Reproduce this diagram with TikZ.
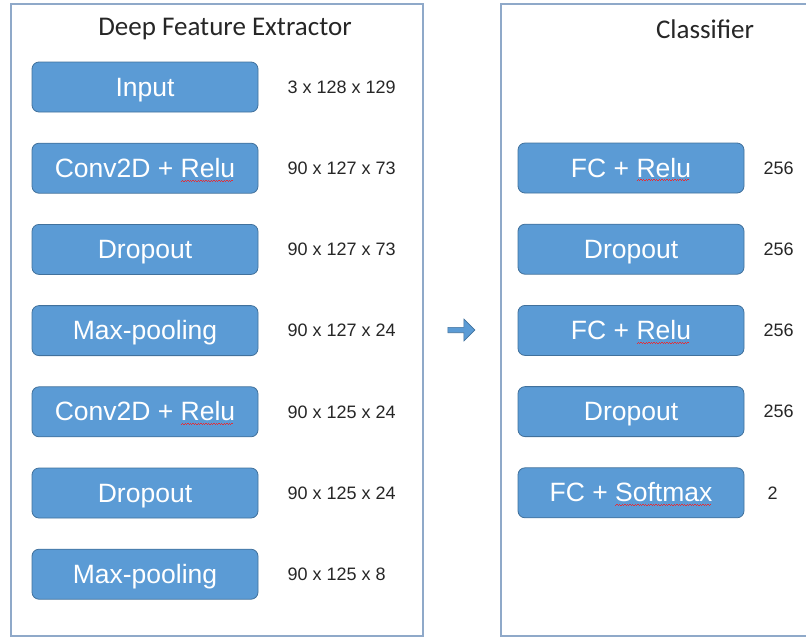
\documentclass[tikz,border=0pt]{standalone}
\usepackage{fontspec}
\setmainfont{Liberation Sans}
\newfontfamily\titlefont{Carlito}
\usetikzlibrary{shapes.arrows, positioning}
\definecolor{boxblue}{HTML}{5B9BD5}
\definecolor{boxedge}{HTML}{41719C}
\definecolor{panel}{HTML}{8FA9C9}
\definecolor{spellred}{HTML}{E0303A}
\newcommand\redwave[1]{\setbox0\hbox{#1}\rlap{\raisebox{-4pt}{\color{spellred}\leaders\hbox{\rule{1.3pt}{0.7pt}\raisebox{0.9pt}{\rule{1.3pt}{0.7pt}}}\hskip\wd0}}\box0}

\begin{document}
\begin{tikzpicture}[
    x=1pt, y=-1pt,
    node distance=30.4pt,
    layer/.style={draw=boxedge, line width=0.8pt, fill=boxblue, rounded corners=7pt, minimum width=226pt, minimum height=50pt, text height=19pt, text depth=1pt, text=white, font=\fontsize{26.5}{30}\selectfont},
    dims/.style={font=\fontsize{18}{21}\selectfont, text=black!85, inner sep=0pt, anchor=west},
    heading/.style={font=\titlefont\fontsize{27}{31}\selectfont, text=black!85},
    frame/.style={draw=panel, line width=1.6pt}
]
    \useasboundingbox (0,0) rectangle (806,638);
    % panels
    \draw[frame] (11,636) -- (11,4) -- (423,4) -- (423,636) -- cycle;
    \draw[frame] (820,636) -- (501,636) -- (501,4) -- (820,4);
    \node[heading] (fextitle) at (225,29) {Deep Feature Extractor};
    \node[heading] (clstitle) at (705,29) {Classifier};

    % feature extractor
    \node[layer] (in) at (145,87) {Input};
    \node[layer, below=of in] (conva) {Conv2D + \redwave{Relu}};
    \node[layer, below=of conva] (dropa) {Dropout};
    \node[layer, below=of dropa] (poola) {Max-pooling};
    \node[layer, below=of poola] (convb) {Conv2D + \redwave{Relu}};
    \node[layer, below=of convb] (dropb) {Dropout};
    \node[layer, below=of dropb] (poolb) {Max-pooling};

    \node[dims, right=29pt of in] (din) {3 x 128 x 129};
    \node[dims, right=29pt of conva] (dconva) {90 x 127 x 73};
    \node[dims, right=29pt of dropa] (ddropa) {90 x 127 x 73};
    \node[dims, right=29pt of poola] (dpoola) {90 x 127 x 24};
    \node[dims, right=29pt of convb] (dconvb) {90 x 125 x 24};
    \node[dims, right=29pt of dropb] (ddropb) {90 x 125 x 24};
    \node[dims, right=29pt of poolb] (dpoolb) {90 x 125 x 8};

    % classifier
    \node[layer] (fca) at (631,168) {FC + \redwave{Relu}};
    \node[layer, below=of fca] (cdropa) {Dropout};
    \node[layer, below=of cdropa] (fcb) {FC + \redwave{Relu}};
    \node[layer, below=of fcb] (cdropb) {Dropout};
    \node[layer, below=of cdropb] (fcout) {FC + \redwave{Softmax}};

    \node[dims, right=19pt of fca] (dfca) {256};
    \node[dims, right=19pt of cdropa] (dcdropa) {256};
    \node[dims, right=19pt of fcb] (dfcb) {256};
    \node[dims, right=19pt of cdropb] (dcdropb) {256};
    \node[dims, right=23pt of fcout] (dfcout) {2};

    % hand-over arrow
    \node[single arrow, draw=boxedge, line width=0.6pt, fill=boxblue, minimum height=27pt, minimum width=22pt, single arrow head extend=4pt, inner sep=1pt] (handover) at (460,330) {};
\end{tikzpicture}
\end{document}
